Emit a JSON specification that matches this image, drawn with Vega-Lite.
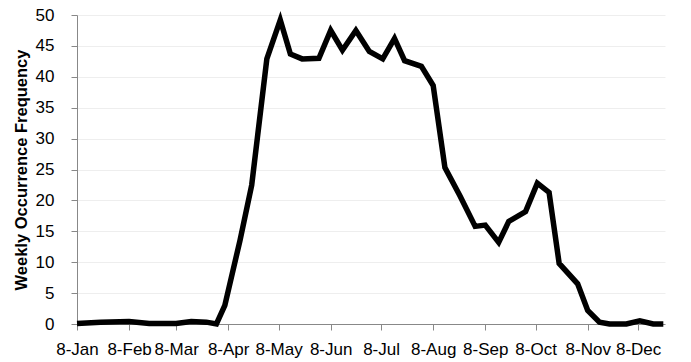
{
  "$schema": "https://vega.github.io/schema/vega-lite/v6.json",
  "width": 588,
  "height": 309,
  "autosize": {"type": "none"},
  "padding": {"left": 77, "top": 15, "right": 26, "bottom": 38},
  "background": "white",
  "config": {
    "view": {"stroke": null},
    "font": "Liberation Sans",
    "axis": {"labelFont": "Liberation Sans", "titleFont": "Liberation Sans", "labelColor": "#000", "titleColor": "#000"}
  },
  "data": {
    "values": [
      {"date": "2001-01-08", "freq": 0.1},
      {"date": "2001-01-22", "freq": 0.3},
      {"date": "2001-02-08", "freq": 0.4},
      {"date": "2001-02-20", "freq": 0.1},
      {"date": "2001-03-08", "freq": 0.1},
      {"date": "2001-03-17", "freq": 0.4},
      {"date": "2001-03-26", "freq": 0.3},
      {"date": "2001-04-01", "freq": 0},
      {"date": "2001-04-06", "freq": 3},
      {"date": "2001-04-15", "freq": 13.5},
      {"date": "2001-04-22", "freq": 22.5},
      {"date": "2001-05-01", "freq": 42.9},
      {"date": "2001-05-09", "freq": 49.2},
      {"date": "2001-05-15", "freq": 43.7},
      {"date": "2001-05-22", "freq": 42.9},
      {"date": "2001-06-01", "freq": 43},
      {"date": "2001-06-08", "freq": 47.5},
      {"date": "2001-06-15", "freq": 44.3},
      {"date": "2001-06-23", "freq": 47.5},
      {"date": "2001-07-01", "freq": 44.1},
      {"date": "2001-07-09", "freq": 42.9},
      {"date": "2001-07-16", "freq": 46.2},
      {"date": "2001-07-22", "freq": 42.6},
      {"date": "2001-08-01", "freq": 41.7},
      {"date": "2001-08-08", "freq": 38.6},
      {"date": "2001-08-15", "freq": 25.3},
      {"date": "2001-08-24", "freq": 20.7},
      {"date": "2001-09-02", "freq": 15.8},
      {"date": "2001-09-08", "freq": 16.0},
      {"date": "2001-09-16", "freq": 13.2},
      {"date": "2001-09-22", "freq": 16.6},
      {"date": "2001-10-02", "freq": 18.2},
      {"date": "2001-10-09", "freq": 22.8},
      {"date": "2001-10-16", "freq": 21.3},
      {"date": "2001-10-22", "freq": 9.8},
      {"date": "2001-11-02", "freq": 6.5},
      {"date": "2001-11-08", "freq": 2.2},
      {"date": "2001-11-15", "freq": 0.3},
      {"date": "2001-11-21", "freq": 0},
      {"date": "2001-12-01", "freq": 0},
      {"date": "2001-12-09", "freq": 0.5},
      {"date": "2001-12-17", "freq": 0},
      {"date": "2001-12-23", "freq": 0}
    ]
  },
  "mark": {"type": "line", "color": "#000", "strokeWidth": 5.5, "strokeJoin": "miter"},
  "encoding": {
    "x": {
      "field": "date",
      "type": "temporal",
      "scale": {
        "type": "utc",
        "domain": [
          {"year": 2001, "month": 1, "date": 8, "utc": true},
          {"year": 2001, "month": 12, "date": 24, "utc": true}
        ]
      },
      "axis": {
        "title": null,
        "labelExpr": "utcFormat(datum.value, '%-d-%b')",
        "values": [
          {"year": 2001, "month": 1, "date": 8, "utc": true},
          {"year": 2001, "month": 2, "date": 8, "utc": true},
          {"year": 2001, "month": 3, "date": 8, "utc": true},
          {"year": 2001, "month": 4, "date": 8, "utc": true},
          {"year": 2001, "month": 5, "date": 8, "utc": true},
          {"year": 2001, "month": 6, "date": 8, "utc": true},
          {"year": 2001, "month": 7, "date": 8, "utc": true},
          {"year": 2001, "month": 8, "date": 8, "utc": true},
          {"year": 2001, "month": 9, "date": 8, "utc": true},
          {"year": 2001, "month": 10, "date": 8, "utc": true},
          {"year": 2001, "month": 11, "date": 8, "utc": true},
          {"year": 2001, "month": 12, "date": 8, "utc": true}
        ],
        "grid": false,
        "domainColor": "#888",
        "domainWidth": 1,
        "tickColor": "#888",
        "tickSize": 6,
        "labelFontSize": 17,
        "labelPadding": 11,
        "labelAngle": 0,
        "labelOverlap": false,
        "labelFlush": false
      }
    },
    "y": {
      "field": "freq",
      "type": "quantitative",
      "scale": {"domain": [0, 50], "nice": false},
      "axis": {
        "title": "Weekly Occurrence Frequency",
        "titleFontSize": 16.5,
        "titleFontWeight": "bold",
        "titleX": -56,
        "titleY": 154.5,
        "titleAngle": -90,
        "titleAlign": "center",
        "titleBaseline": "middle",
        "values": [0, 5, 10, 15, 20, 25, 30, 35, 40, 45, 50],
        "grid": true,
        "gridColor": "#eeeeee",
        "gridWidth": 1,
        "domainColor": "#888",
        "tickColor": "#888",
        "tickSize": 6,
        "labelFontSize": 17,
        "labelPadding": 17,
        "labelFlush": false,
        "labelOverlap": false
      }
    }
  }
}
